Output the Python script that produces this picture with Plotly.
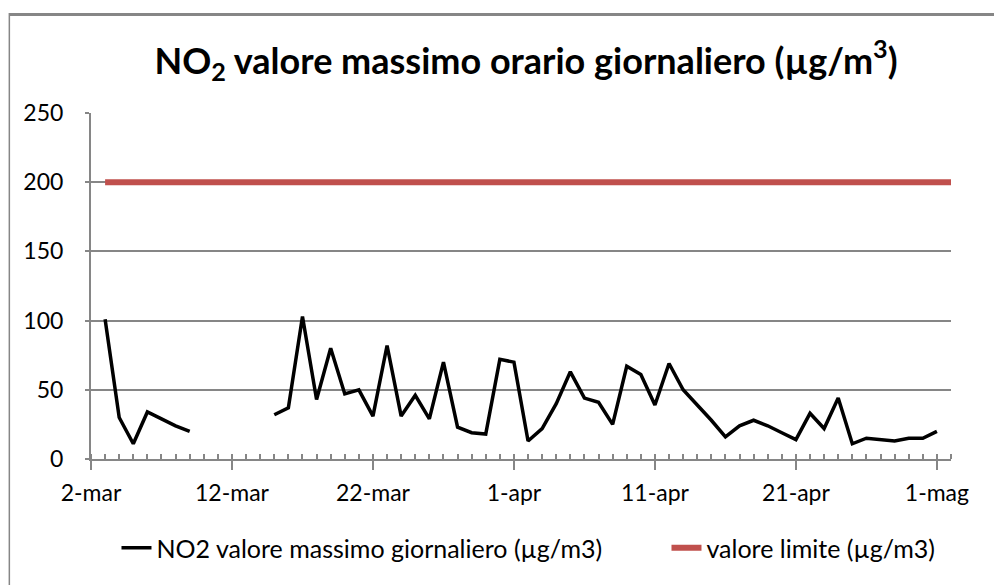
import datetime as dt
import plotly.graph_objects as go

# ---- data ----
start_date = dt.date(2020, 3, 3)
no2_values = [101, 30, 11, 34, 29, 24, 20, None, None, None, None, None,
              32, 37, 103, 43, 80, 47, 50, 31, 82, 31, 46, 29, 70, 23, 19, 18,
              72, 70, 13, 22, 40, 63, 44, 41, 25, 67, 61, 39, 69, 50, 39, 28,
              16, 24, 28, 24, 19, 14, 33, 22, 44, 11, 15, 14, 13, 15, 15, 20]
no2_dates = [start_date + dt.timedelta(days=i) for i in range(len(no2_values))]
limit_value = 200
limit_dates = [start_date + dt.timedelta(days=i) for i in range(61)]
limit_values = [limit_value] * len(limit_dates)

tick_dates = ["2020-03-02", "2020-03-12", "2020-03-22", "2020-04-01",
              "2020-04-11", "2020-04-21", "2020-05-01"]
tick_labels = ["2-mar", "12-mar", "22-mar", "1-apr", "11-apr", "21-apr", "1-mag"]
y_ticks = [0, 50, 100, 150, 200, 250]

name_no2 = "NO2 valore massimo giornaliero (µg/m3)"
name_limit = "valore limite (µg/m3)"
title_text = "<b>NO<sub>2</sub> valore massimo orario giornaliero (µg/m<sup>3</sup>)</b>"

FONT = "Lato"
GRAY = "#868686"

# page has an 8px body margin: work in figure coordinates = screen - 8
OFF = 8
W, H = 1002 - OFF, 585 - OFF
L, R, T, B = 90.5 - OFF, 951 - OFF, 113 - OFF, 459 - OFF

fig = go.Figure()
fig.add_trace(go.Scatter(x=no2_dates, y=no2_values, mode="lines", name=name_no2,
                         line=dict(color="black", width=3.5), connectgaps=False,
                         legendwidth=505))
fig.add_trace(go.Scatter(x=limit_dates, y=limit_values, mode="lines", name=name_limit,
                         line=dict(color="#C0504D", width=6)))

fig.update_layout(
    width=W, height=H,
    margin=dict(l=L, r=W - R, t=T, b=H - B, pad=0),
    paper_bgcolor="white", plot_bgcolor="white",
    font=dict(family=FONT, color="black", size=23),
    title=dict(text=title_text, x=(526 - OFF) / W, xref="container", xanchor="center",
               y=1 - (61 - OFF) / H, yanchor="middle",
               font=dict(family=FONT, size=36, color="black")),
    showlegend=True,
    legend=dict(orientation="h", x=(116 - OFF - L) / (R - L), xanchor="left",
                y=(B - (548 - OFF)) / (B - T), yanchor="middle",
                font=dict(family=FONT, size=25, color="black"),
                bgcolor="rgba(0,0,0,0)"),
    xaxis=dict(type="date", range=["2020-03-02", "2020-05-02"],
               tickvals=tick_dates, ticktext=tick_labels,
               showgrid=False, zeroline=False,
               showline=True, linecolor=GRAY, linewidth=2,
               ticks="outside", ticklen=9, tickwidth=2, tickcolor=GRAY,
               ticklabelstandoff=3,
               tickfont=dict(family=FONT, size=23, color="black"),
               minor=dict(dtick=86400000, ticks="inside", ticklen=5, tickwidth=1.5,
                          tickcolor=GRAY, showgrid=False)),
    yaxis=dict(range=[0, 250], tickvals=y_ticks,
               showgrid=True, gridcolor=GRAY, gridwidth=2,
               zeroline=False,
               showline=True, linecolor=GRAY, linewidth=2,
               ticks="outside", ticklen=4, tickwidth=2, tickcolor=GRAY,
               ticklabelstandoff=17,
               tickfont=dict(family=FONT, size=23, color="black")),
)

def px_to_paper_x(px):
    return (px - OFF - L) / (R - L)

def px_to_paper_y(py):
    return (B - (py - OFF)) / (B - T)

# chart area frame
fig.add_shape(type="line", xref="paper", yref="paper",
              x0=px_to_paper_x(8.8), x1=px_to_paper_x(1010),
              y0=px_to_paper_y(14.5), y1=px_to_paper_y(14.5),
              line=dict(color=GRAY, width=3))
fig.add_shape(type="line", xref="paper", yref="paper",
              x0=px_to_paper_x(8.8), x1=px_to_paper_x(8.8),
              y0=px_to_paper_y(13), y1=px_to_paper_y(600),
              line=dict(color=GRAY, width=1.5))

fig.write_html("out.html")
